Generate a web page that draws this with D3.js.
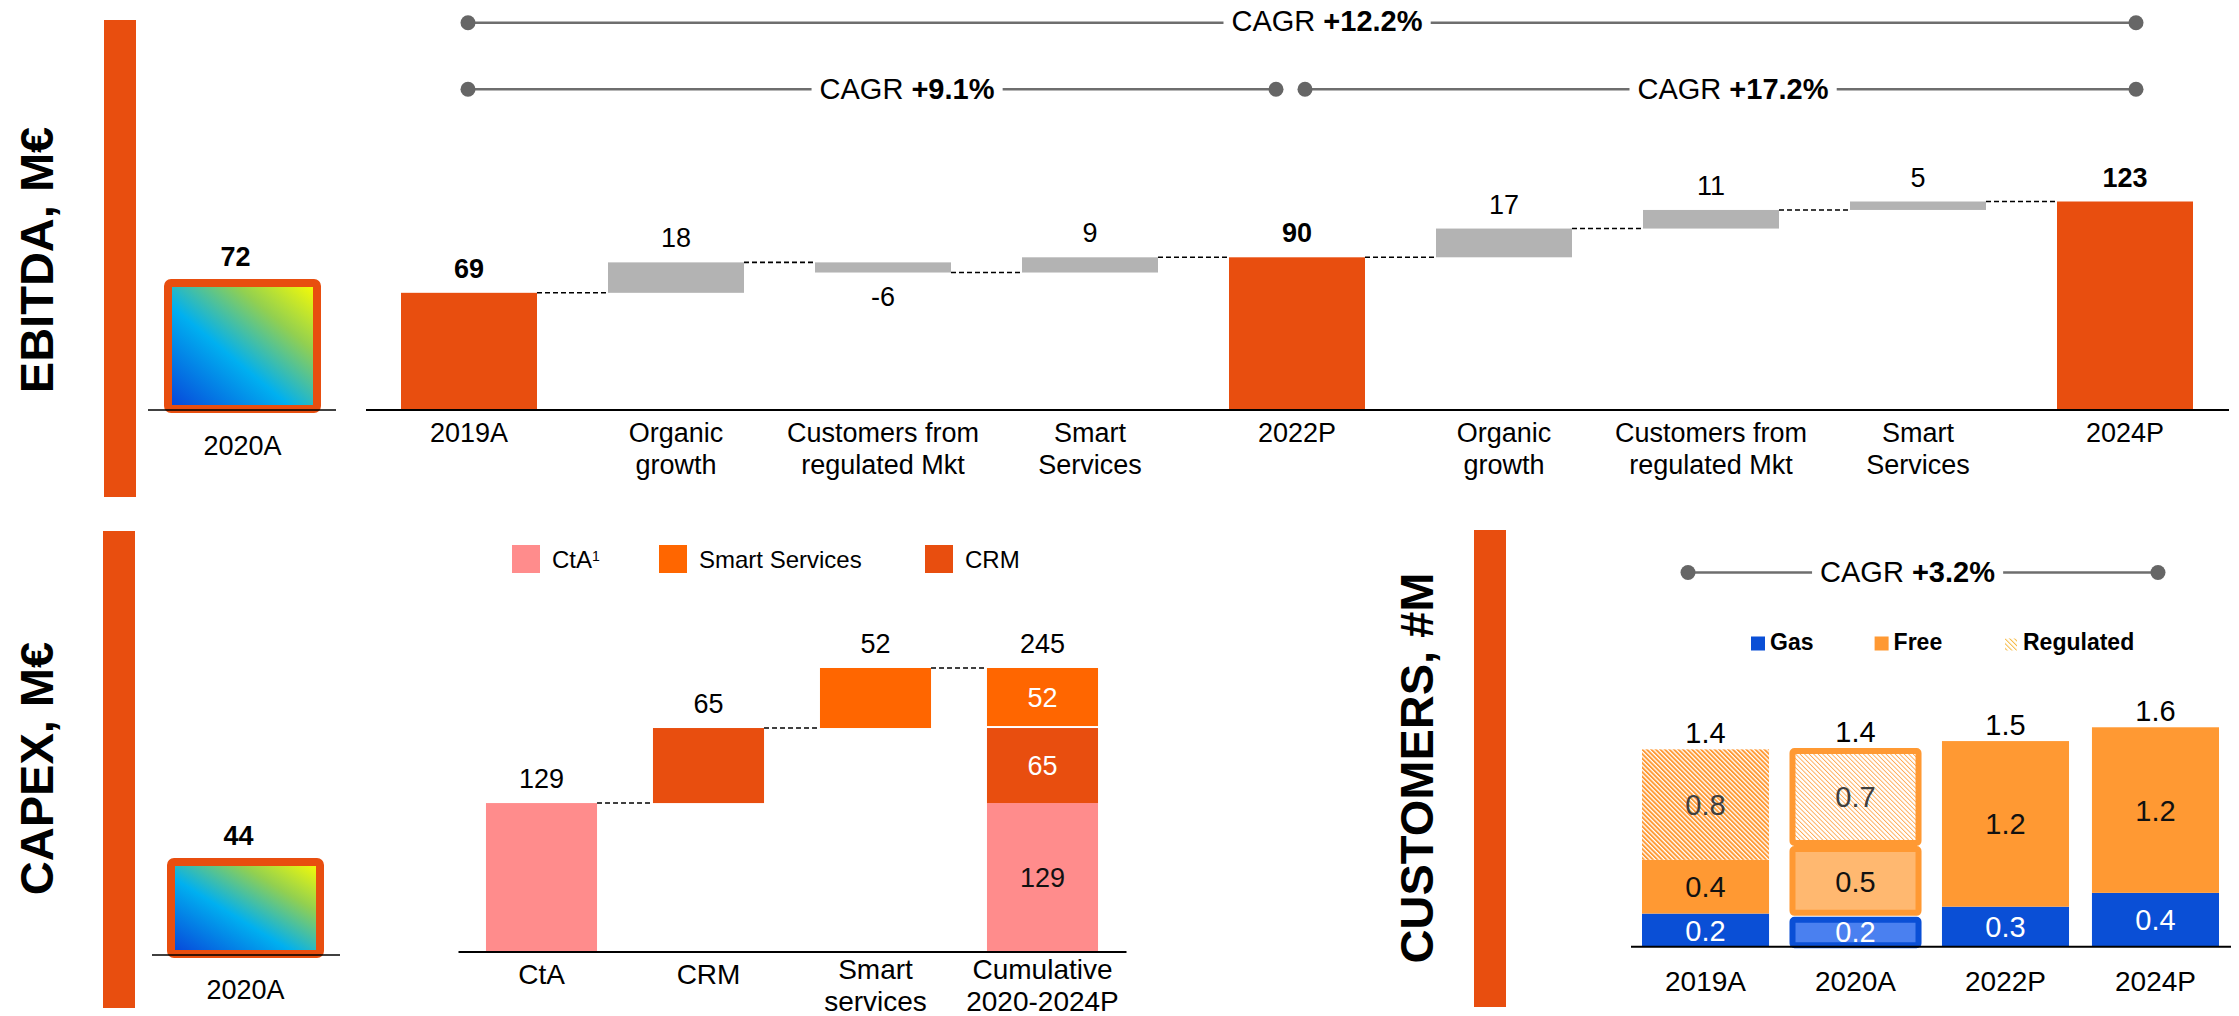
<!DOCTYPE html>
<html><head><meta charset="utf-8">
<script src="https://cdn.jsdelivr.net/npm/d3@7"></script>
<style>
html,body{margin:0;padding:0;background:#fff;}
svg{display:block;font-family:"Liberation Sans",Arial,Helvetica,sans-serif;}
text{white-space:pre;}
</style></head><body>
<svg id="chart" width="2239" height="1016"></svg>
<script>
// ================= DATA =================
const ebitdaCategories = ["2019A","Organic\ngrowth","Customers from\nregulated Mkt","Smart\nServices","2022P","Organic\ngrowth","Customers from\nregulated Mkt","Smart\nServices","2024P"];
const ebitdaValues = [69, 18, -6, 9, 90, 17, 11, 5, 123];
const ebitdaTypes  = ["total","delta","delta","delta","total","delta","delta","delta","total"];
const ebitda2020 = 72;
const ebitdaCagr = ["+12.2%", "+9.1%", "+17.2%"];

const capexCategories = ["CtA","CRM","Smart\nservices","Cumulative\n2020-2024P"];
const capexComponents = ["CtA","CRM","Smart Services"];
const capexValues = [129, 65, 52];
const capexTotalLabel = 245;
const capex2020 = 44;
const capexLegend = ["CtA","Smart Services","CRM"];

const customerYears = ["2019A","2020A","2022P","2024P"];
const customerGas = [0.24, 0.22, 0.29, 0.39];
const customerFree = [0.39, 0.51, 1.20, 1.20];
const customerRegulated = [0.80, 0.71, 0, 0];
const customerCagr = "+3.2%";
const customerLegend = ["Gas","Free","Regulated"];
const highlightYear = "2020A";

// ================= SETUP =================
const FONT = '"Liberation Sans", Arial, Helvetica, sans-serif';
const ORANGE = "#E84E0F", GREY = "#B3B3B3", PINK = "#FF8C8C", SMART = "#FF6600";
const GAS = "#0A4FD6", GAS_L = "#4A80F0", FREE = "#FF9933", FREE_L = "#FFB870";
const svg = d3.select("#chart");
const defs = svg.append("defs");

const grad = defs.append("linearGradient").attr("id","g2020")
  .attr("x1","0").attr("y1","1").attr("x2","1").attr("y2","0");
[[0,"#0840d8"],[0.42,"#00b0f0"],[0.72,"#92d050"],[1,"#ffff00"]]
  .forEach(([o,c]) => grad.append("stop").attr("offset",o).attr("stop-color",c));

function hatch(id, color, sw, bg, size){
  const p = defs.append("pattern").attr("id",id).attr("patternUnits","userSpaceOnUse")
    .attr("width",size).attr("height",size).attr("patternTransform","rotate(-45)");
  p.append("rect").attr("width",size).attr("height",size).attr("fill",bg);
  p.append("rect").attr("width",sw).attr("height",size).attr("fill",color);
}
hatch("hatchReg", FREE, 1.9, "#fff", 3.2);
hatch("hatchRegL", "#FFA850", 0.9, "#fff", 3.2);
hatch("hatchLeg", "#F5B942", 1.0, "#fff", 3.4);

function sideBar(x, y0, y1){ svg.append("rect").attr("x",x).attr("y",y0).attr("width",32).attr("height",y1-y0).attr("fill",ORANGE); }
function sideTitle(x, y, t){
  svg.append("text").attr("transform",`translate(${x},${y}) rotate(-90)`).attr("text-anchor","middle")
    .attr("font-weight","bold").attr("font-size",47).attr("fill","#000").text(t);
}
function dashed(g, x1, x2, y){
  g.append("line").attr("x1",x1).attr("x2",x2).attr("y1",y).attr("y2",y)
    .attr("stroke","#000").attr("stroke-width",1.6).attr("stroke-dasharray","5,3");
}
function cagr(g, x1, x2, y, tx, ty, label){
  const t = g.append("text").attr("x",tx).attr("y",ty).attr("text-anchor","middle")
    .attr("font-size",29).attr("fill","#000");
  t.append("tspan").text("CAGR ");
  t.append("tspan").attr("font-weight","bold").text(label);
  const bb = t.node().getBBox();
  [[x1, bb.x-8],[bb.x+bb.width+8, x2]].forEach(([a,b]) =>
    g.append("line").attr("x1",a).attr("x2",b).attr("y1",y).attr("y2",y)
      .attr("stroke","#6e6e6e").attr("stroke-width",2.6));
  [x1,x2].forEach(cx => g.append("circle").attr("cx",cx).attr("cy",y).attr("r",7.5).attr("fill","#666"));
}
function relabel(axisG, labels, y1, y2, lh, size){
  axisG.attr("font-family",FONT).attr("font-size",size);
  axisG.selectAll(".tick text").each(function(d){
    const t = d3.select(this);
    const lines = labels[d].split("\n");
    t.text(null).attr("y",null).attr("dy",null).attr("fill","#000").attr("font-size",size);
    lines.forEach((l,k) => t.append("tspan").attr("x",0)
      .attr("y",(lines.length>1 ? y2 : y1) + k*lh).text(l));
  });
  axisG.select(".domain").attr("stroke","#000").attr("stroke-width",2);
}
function box2020(g, xs, ys, value, lineX0, lineX1, lineY, labelY){
  const x0 = xs.range()[0], x1 = xs.range()[1];
  g.append("rect").attr("x",x0).attr("y",ys(value)).attr("width",x1-x0)
    .attr("height",ys(0)-ys(value)).attr("rx",3)
    .attr("fill","url(#g2020)").attr("stroke",ORANGE).attr("stroke-width",8);
  g.append("line").attr("x1",lineX0).attr("x2",lineX1).attr("y1",lineY).attr("y2",lineY)
    .attr("stroke","#000").attr("stroke-width",1.6);
  g.append("text").attr("x",(x0+x1)/2-7).attr("y",ys(value)-17).attr("text-anchor","middle")
    .attr("font-weight","bold").attr("font-size",27).text(value);
  g.append("text").attr("x",(x0+x1)/2).attr("y",labelY).attr("text-anchor","middle")
    .attr("font-size",27).text(highlightYear);
}

// ================= EBITDA =================
sideBar(104, 20, 497);
sideTitle(53, 260, "EBITDA, M€");
const gE = svg.append("g");
box2020(gE, d3.scaleLinear().range([168,317]), d3.scaleLinear().domain([0,ebitda2020]).range([409,283]),
  ebitda2020, 148, 336, 410, 455);

const xE = d3.scaleBand().domain(d3.range(ebitdaCategories.length)).range([365.5,2228.5])
  .paddingInner(0.343).paddingOuter(0.1715);
const yE = d3.scaleLinear().domain([0,123]).range([409.5,201.5]);
let run = 0;
const eb = ebitdaValues.map((v,i) => {
  let s, e;
  if (ebitdaTypes[i] === "total") { s = 0; e = v; run = v; }
  else { s = run; e = run + v; run = e; }
  return {i, v, s, e, type: ebitdaTypes[i]};
});
gE.selectAll("rect.eb").data(eb).join("rect").attr("class","eb")
  .attr("x",d => xE(d.i)).attr("width",xE.bandwidth())
  .attr("y",d => yE(Math.max(d.s,d.e))).attr("height",d => Math.abs(yE(d.s)-yE(d.e)))
  .attr("fill",d => d.type === "total" ? ORANGE : GREY);
eb.slice(0,-1).forEach((d,k) => dashed(gE, xE(d.i)+xE.bandwidth(), xE(d.i+1), yE(d.e)));
gE.selectAll("text.ebv").data(eb).join("text").attr("class","ebv")
  .attr("x",d => xE(d.i)+xE.bandwidth()/2)
  .attr("y",d => d.v >= 0 ? yE(Math.max(d.s,d.e)) - 15 : yE(Math.min(d.s,d.e)) + 33)
  .attr("text-anchor","middle").attr("font-size",27)
  .attr("font-weight",d => d.type === "total" ? "bold" : "normal")
  .text(d => String(d.v));
const axE = gE.append("g").attr("transform","translate(0,409.5)")
  .call(d3.axisBottom(xE).tickSize(0).tickSizeOuter(0));
relabel(axE, ebitdaCategories, 32.7, 32.7, 31.5, 27);

const cx0 = xE(0)+xE.bandwidth()/2, cx4 = xE(4)+xE.bandwidth()/2, cx8 = xE(8)+xE.bandwidth()/2;
cagr(gE, cx0-1, cx8+11, 22.7, 1327, 30.5, ebitdaCagr[0]);
cagr(gE, cx0-1, cx4-21, 89.3, 907, 98.5, ebitdaCagr[1]);
cagr(gE, cx4+8, cx8+11, 89.3, 1733, 98.5, ebitdaCagr[2]);

// ================= CAPEX =================
sideBar(103, 531, 1008);
sideTitle(53, 768.5, "CAPEX, M€");
const gC = svg.append("g");
box2020(gC, d3.scaleLinear().range([171,320]), d3.scaleLinear().domain([0,capex2020]).range([954,862]),
  capex2020, 152, 340, 955, 999);

const capexColors = {"CtA":PINK, "CRM":ORANGE, "Smart Services":SMART};
const xC = d3.scaleBand().domain(d3.range(capexCategories.length)).range([458,1126])
  .paddingInner(0.335).paddingOuter(0.1675);
const capexSum = d3.sum(capexValues);
const yC = d3.scaleLinear().domain([0,capexSum]).range([952,952-capexSum*1.1545]);
let cr = 0;
const cb = capexValues.map((v,i) => { const d = {i, v, s: cr, e: cr+v, name: capexComponents[i]}; cr += v; return d; });
gC.selectAll("rect.cw").data(cb).join("rect").attr("class","cw")
  .attr("x",d => xC(d.i)).attr("width",xC.bandwidth())
  .attr("y",d => yC(d.e)).attr("height",d => yC(d.s)-yC(d.e))
  .attr("fill",d => capexColors[d.name]);
gC.selectAll("rect.cs").data(cb).join("rect").attr("class","cs")
  .attr("x",xC(3)).attr("width",xC.bandwidth())
  .attr("y",d => yC(d.e)).attr("height",d => yC(d.s)-yC(d.e) - (d.i === 2 ? 2 : 0))
  .attr("fill",d => capexColors[d.name]);
cb.forEach(d => dashed(gC, xC(d.i)+xC.bandwidth(), xC(d.i+1), yC(d.e)));
gC.selectAll("text.cv").data(cb).join("text").attr("class","cv")
  .attr("x",d => xC(d.i)+xC.bandwidth()/2).attr("y",d => yC(d.e)-15)
  .attr("text-anchor","middle").attr("font-size",27).text(d => d.v);
gC.selectAll("text.ci").data(cb).join("text").attr("class","ci")
  .attr("x",xC(3)+xC.bandwidth()/2).attr("y",d => (yC(d.s)+yC(d.e))/2)
  .attr("dy","0.35em").attr("text-anchor","middle").attr("font-size",27)
  .attr("fill",d => d.name === "CtA" ? "#111" : "#fff").text(d => d.v);
gC.append("text").attr("x",xC(3)+xC.bandwidth()/2).attr("y",yC(capexSum)-15)
  .attr("text-anchor","middle").attr("font-size",27).text(capexTotalLabel);
const axC = gC.append("g").attr("transform","translate(0,951.5)")
  .call(d3.axisBottom(xC).tickSize(0).tickSizeOuter(0));
relabel(axC, capexCategories, 32, 27, 32, 28);

const legX = [512, 659, 925];
capexLegend.forEach((n,k) => {
  gC.append("rect").attr("x",legX[k]).attr("y",545).attr("width",28).attr("height",28).attr("fill",capexColors[n]);
  const t = gC.append("text").attr("x",legX[k]+40).attr("y",568).attr("font-size",24).text(n);
  if (n === "CtA") t.append("tspan").attr("font-size",14).attr("dy",-7).text("1");
});

// ================= CUSTOMERS =================
sideBar(1474, 530, 1007);
sideTitle(1433, 768, "CUSTOMERS, #M");
const gU = svg.append("g");
const xU = d3.scaleBand().domain(customerYears).range([1630.5,2230.5]).paddingInner(0.153).paddingOuter(0.0767);
const yU = d3.scaleLinear().domain([0,1.6]).range([946.7,946.7-1.6*138]);
const segs = [];
customerYears.forEach((yr,i) => {
  const g = customerGas[i], f = customerFree[i], r = customerRegulated[i];
  segs.push({yr, key:"gas", s:0, e:g, v:g});
  segs.push({yr, key:"free", s:g, e:g+f, v:f});
  if (r > 0) segs.push({yr, key:"reg", s:g+f, e:g+f+r, v:r});
});
const fillN = {gas:GAS, free:FREE, reg:"url(#hatchReg)"};
const fillH = {gas:GAS_L, free:FREE_L, reg:"url(#hatchRegL)"};
const strokeH = {gas:GAS, free:FREE, reg:FREE};
const normal = segs.filter(d => d.yr !== highlightYear);
const high = segs.filter(d => d.yr === highlightYear);
gU.selectAll("rect.un").data(normal).join("rect").attr("class","un")
  .attr("x",d => xU(d.yr)).attr("width",xU.bandwidth())
  .attr("y",d => yU(d.e)).attr("height",d => yU(d.s)-yU(d.e))
  .attr("fill",d => fillN[d.key]);
gU.selectAll("rect.uh").data(high).join("rect").attr("class","uh")
  .attr("x",d => xU(d.yr)+0.5).attr("width",xU.bandwidth()-1)
  .attr("y",d => yU(d.e)+3+(d.key==="gas"?0.5:0))
  .attr("height",d => yU(d.s)-yU(d.e)-6-(d.key==="gas"?0.5:0)-(d.key==="free"?0.5:0)+(d.key==="gas"?1.5:0))
  .attr("rx",2).attr("fill",d => fillH[d.key]).attr("stroke",d => strokeH[d.key]).attr("stroke-width",6);
gU.selectAll("text.uv").data(segs).join("text").attr("class","uv")
  .attr("x",d => xU(d.yr)+xU.bandwidth()/2).attr("y",d => (yU(d.s)+yU(d.e))/2)
  .attr("dy","0.36em").attr("text-anchor","middle").attr("font-size",29)
  .attr("fill",d => d.key === "gas" ? "#fff" : d.key === "reg" ? "#404040" : "#111")
  .text(d => d3.format(".1f")(d.v));
gU.selectAll("text.ut").data(customerYears).join("text").attr("class","ut")
  .attr("x",d => xU(d)+xU.bandwidth()/2)
  .attr("y",(d,i) => yU(customerGas[i]+customerFree[i]+customerRegulated[i]) - 6)
  .attr("text-anchor","middle").attr("font-size",29)
  .text((d,i) => d3.format(".1f")(customerGas[i]+customerFree[i]+customerRegulated[i]));
const axU = gU.append("g").attr("transform","translate(0,946.2)")
  .call(d3.axisBottom(xU).tickSize(0).tickSizeOuter(0));
const yrLab = {}; customerYears.forEach(y => yrLab[y] = y);
relabel(axU, yrLab, 45, 45, 30, 28);
// legend
const uLeg = [{x:1751, s:14, f:GAS, tx:1770}, {x:1874.6, s:14, f:FREE, tx:1893.6}, {x:2005, s:12, f:"url(#hatchLeg)", tx:2023}];
customerLegend.forEach((n,k) => {
  const L = uLeg[k];
  gU.append("rect").attr("x",L.x).attr("y",650.5-L.s).attr("width",L.s).attr("height",L.s).attr("fill",L.f);
  gU.append("text").attr("x",L.tx).attr("y",650).attr("font-size",23).attr("font-weight","bold").text(n);
});
const ux0 = xU(customerYears[0])+xU.bandwidth()/2, ux3 = xU(customerYears[3])+xU.bandwidth()/2;
cagr(gU, ux0-17.5, ux3+2.5, 572.5, 1907.5, 581.7, customerCagr);
</script>
</body></html>
